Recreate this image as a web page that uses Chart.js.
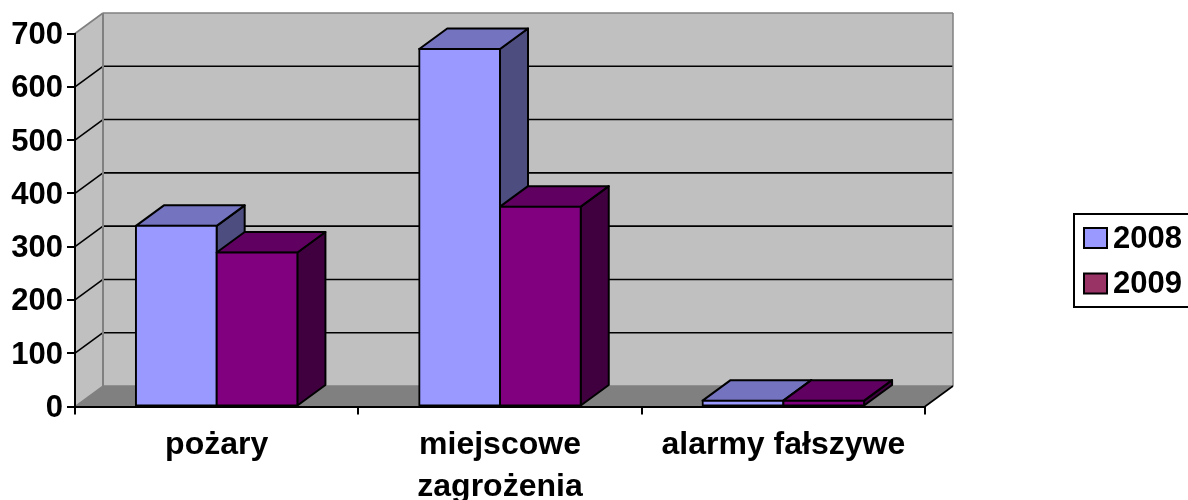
<!DOCTYPE html>
<html lang="pl">
<head>
<meta charset="UTF-8">
<title>Interwencje</title>
<script src="https://cdn.jsdelivr.net/npm/chart.js@4/dist/chart.umd.js"></script>
<style>
	html, body { margin: 0; padding: 0; background: #fff; }
	canvas { display: block; }
</style>
</head>
<body>
	<canvas id="chart" width="1188" height="500"></canvas>

	<script>
		var categories = ["pożary", ["miejscowe", "zagrożenia"], "alarmy fałszywe"];
		var years = ["2008", "2009"];
		var values2008 = [339, 671, 11];
		var values2009 = [289, 375, 11];
		var yTicks = [0, 100, 200, 300, 400, 500, 600, 700];

		// bar faces and legend swatches
		var frontColors = ["#9999ff", "#800080"];
		var topColors = ["#7373bf", "#600060"];
		var sideColors = ["#4d4d80", "#400040"];
		var swatchColors = ["#9999ff", "#993366"];

		// depth of the fake 3D box
		var DX = 28, DY = 20.5;

		function poly(ctx, pts, fill, stroke, lw) {
			ctx.beginPath();
			ctx.moveTo(pts[0][0], pts[0][1]);
			for (var i = 1; i < pts.length; i++) ctx.lineTo(pts[i][0], pts[i][1]);
			ctx.closePath();
			if (fill) { ctx.fillStyle = fill; ctx.fill(); }
			if (stroke) { ctx.strokeStyle = stroke; ctx.lineWidth = lw; ctx.lineJoin = "round"; ctx.stroke(); }
		}

		function line(ctx, x1, y1, x2, y2, color, lw) {
			ctx.beginPath();
			ctx.moveTo(x1, y1);
			ctx.lineTo(x2, y2);
			ctx.strokeStyle = color;
			ctx.lineWidth = lw;
			ctx.stroke();
		}

		var walls = {
			id: "walls",
			beforeDraw: function (chart) {
				var ctx = chart.ctx, a = chart.chartArea, y = chart.scales.y;
				var l = a.left, r = a.right, t = a.top, b = y.getPixelForValue(0);
				ctx.save();
				// back and side wall
				poly(ctx, [[l + DX, t - DY], [r + DX, t - DY], [r + DX, b - DY], [l + DX, b - DY]], "#c0c0c0");
				poly(ctx, [[l, t], [l + DX, t - DY], [l + DX, b - DY], [l, b]], "#c0c0c0");
				// floor
				poly(ctx, [[l, b], [l + DX, b - DY], [r + DX, b - DY], [r, b]], "#808080");
				// grid lines go round the side wall and over the back wall
				y.ticks.forEach(function (tick) {
					if (tick.value === 0) return;
					var py = y.getPixelForValue(tick.value);
					var c = tick.value === 700 ? "#808080" : "#000000";
					line(ctx, l, py, l + DX, py - DY, c, 1.6);
					line(ctx, l + DX, py - DY, r + DX, py - DY, c, 1.6);
				});
				// wall edges
				line(ctx, l + DX, t - DY, l + DX, b - DY, "#808080", 2);
				line(ctx, r + DX, t - DY, r + DX, b - DY, "#808080", 1.5);
				line(ctx, l, b, l + DX, b - DY, "#808080", 1.5);
				line(ctx, l + DX, b - DY, r + DX, b - DY, "#808080", 1.5);
				line(ctx, r, b, r + DX, b - DY, "#000000", 1.6);
				ctx.restore();
			},
			// 2009 has to lie over 2008, the opposite of the default order
			beforeDatasetsDraw: function (chart) {
				var ctx = chart.ctx;
				ctx.save();
				[0, 1].forEach(function (i) {
					var meta = chart.getDatasetMeta(i);
					meta.data.forEach(function (bar) {
						var p = bar.getProps(["x", "y", "base", "width"]);
						var x0 = p.x - p.width / 2, x1 = p.x + p.width / 2;
						poly(ctx, [[x1, p.y], [x1 + DX, p.y - DY], [x1 + DX, p.base - DY], [x1, p.base]], sideColors[i], "#000000", 2);
						poly(ctx, [[x0, p.y], [x0 + DX, p.y - DY], [x1 + DX, p.y - DY], [x1, p.y]], topColors[i], "#000000", 2);
					});
					meta.controller.draw();
				});
				ctx.restore();
				return false;
			},
			afterDraw: function (chart) {
				var ctx = chart.ctx;
				ctx.save();
				// legend box, runs off the right edge
				ctx.strokeStyle = "#000000";
				ctx.lineWidth = 2;
				ctx.strokeRect(1074, 214, 130, 93);
				ctx.font = "bold 31px 'Liberation Sans'";
				ctx.textBaseline = "middle";
				years.forEach(function (year, i) {
					var top = 228 + i * 45.5;
					ctx.fillStyle = swatchColors[i];
					ctx.fillRect(1084, top, 23, 20);
					ctx.strokeRect(1084, top, 23, 20);
					ctx.fillStyle = "#000000";
					ctx.fillText(year, 1113, top + 11);
				});
				ctx.restore();
			}
		};

		Chart.defaults.font.family = "'Liberation Sans'";
		Chart.defaults.font.weight = "bold";
		Chart.defaults.font.size = 32;
		Chart.defaults.color = "#000000";

		new Chart(document.getElementById("chart").getContext("2d"), {
			type: "bar",
			data: {
				labels: categories,
				datasets: [
					{ label: years[0], data: values2008, backgroundColor: frontColors[0], borderColor: "#000000", borderWidth: 2, borderSkipped: false, inflateAmount: 1 },
					{ label: years[1], data: values2009, backgroundColor: frontColors[1], borderColor: "#000000", borderWidth: 2, borderSkipped: false, inflateAmount: 1 }
				]
			},
			options: {
				responsive: false,
				animation: false,
				categoryPercentage: 0.57,
				barPercentage: 1,
				layout: { padding: { top: 33.5, right: 263, bottom: 0, left: 0 } },
				plugins: { legend: { display: false }, tooltip: { enabled: false } },
				scales: {
					x: {
						border: { color: "#000000", width: 2 },
						grid: { drawOnChartArea: false, color: "#000000", lineWidth: 2, tickLength: 8, offset: true },
						ticks: { padding: 10, maxRotation: 0, autoSkip: false, font: { lineHeight: 1.3 } },
						afterFit: function (s) { s.height = 93.5; }
					},
					y: {
						min: 0,
						max: 700,
						afterBuildTicks: function (s) {
							s.ticks = yTicks.map(function (v) { return { value: v }; });
						},
						border: { color: "#000000", width: 2 },
						grid: { drawOnChartArea: false, color: "#000000", lineWidth: 2, tickLength: 8 },
						ticks: { padding: 4, labelOffset: 2, font: { size: 31 } },
						afterFit: function (s) { s.width = 75; }
					}
				}
			},
			plugins: [walls]
		});
	</script>
</body>
</html>
